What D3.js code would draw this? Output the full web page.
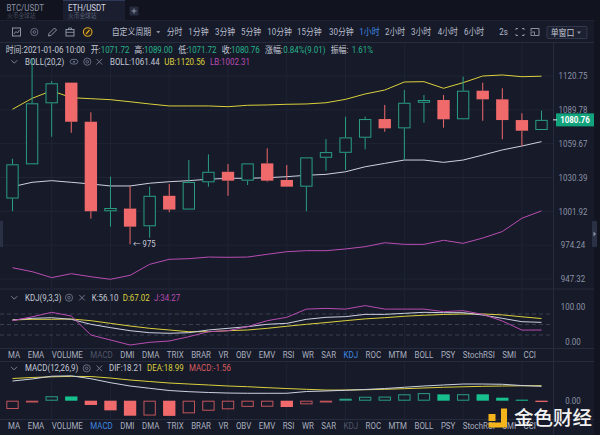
<!DOCTYPE html>
<html><head><meta charset="utf-8">
<script src="https://cdn.jsdelivr.net/npm/d3@7"></script>
<style>
html,body{margin:0;padding:0;background:#161a29;overflow:hidden}
svg{display:block}
text{font-family:Roboto,"Noto Sans CJK SC","DejaVu Sans",sans-serif}
</style></head><body>
<svg id="c" width="600" height="435"></svg>
<script>
// ---------- DATA ----------
const categories = ["01-05 07:00","01-05 08:00","01-05 09:00","01-05 10:00","01-05 11:00","01-05 12:00","01-05 13:00","01-05 14:00","01-05 15:00","01-05 16:00","01-05 17:00","01-05 18:00","01-05 19:00","01-05 20:00","01-05 21:00","01-05 22:00","01-05 23:00","01-06 00:00","01-06 01:00","01-06 02:00","01-06 03:00","01-06 04:00","01-06 05:00","01-06 06:00","01-06 07:00","01-06 08:00","01-06 09:00","01-06 10:00"];
const openV  = [1012.6,1041.7,1095.7,1114.6,1079.1,1002.0,1004.2,989.6,1014.9,1003.4,1026.3,1035.3,1027.7,1042.5,1028.3,1022.6,1047.4,1051.7,1064.9,1081.5,1073.2,1096.2,1098.7,1081.3,1107.2,1099.3,1080.6,1071.72];
const highV  = [1046.5,1137.6,1116.1,1114.6,1087.6,1031.1,1023.2,1022.6,1024.9,1045.4,1050.3,1041.9,1042.5,1055.6,1041.1,1047.7,1063.7,1083.6,1083.6,1094.2,1107.8,1103.3,1103.3,1120.1,1114.6,1109.4,1086.7,1089.00];
const lowV   = [1002.0,1041.7,1065.8,1069.3,995.9,989.3,975.0,980.3,1001.2,1003.4,1022.6,1014.9,1024.0,1026.8,1022.6,1002.0,1036.2,1036.8,1054.7,1070.2,1045.4,1078.2,1073.8,1081.3,1080.0,1063.5,1057.6,1071.72];
const closeV = [1041.7,1095.7,1114.0,1079.1,1002.0,1004.7,989.3,1014.9,1003.4,1026.6,1035.3,1027.7,1042.5,1027.7,1022.6,1047.7,1052.3,1065.2,1081.5,1073.2,1096.2,1098.7,1081.3,1107.2,1099.3,1080.6,1071.1,1080.76];
const bollUp  = [1090.3,1100.2,1107.2,1100.8,1099.9,1099.0,1097.1,1095.1,1093.3,1093.3,1093.3,1092.6,1093.9,1094.2,1094.8,1095.1,1096.2,1099.3,1104.2,1107.8,1115.2,1115.5,1109.4,1114.6,1120.75,1121.7,1120.1,1120.56];
const bollMid = [1022.6,1026.3,1027.7,1026.3,1024.9,1023.2,1023.2,1025.5,1026.8,1027.7,1028.9,1029.7,1029.7,1030.2,1031.1,1032.3,1033.1,1035.3,1039.6,1042.5,1045.4,1045.4,1043.4,1045.4,1049.7,1054.2,1057.6,1061.44];
const bollLow = [956.2,953.1,948.4,951.5,949.1,947.1,950.2,958.9,962.9,963.4,964.7,964.5,964.7,966.9,969.0,969.8,969.8,971.2,973.0,976.2,974.9,974.9,978.2,975.7,980.0,985.3,996.2,1002.31];
const kdjK = [62.9,67.6,69.4,64.8,50.6,41,32.3,26.6,24.9,26.6,34.3,39.1,43.8,50.6,53.3,64.8,70.5,72.4,79,79,81.9,84.8,83.8,83.8,77,67.6,58,56.10];
const kdjD = [63,64.8,64.8,65.7,60.9,53.3,45.7,39.1,34.3,29.4,29.4,32.3,34.3,39.1,45,50.5,55.5,61,66,69.5,73.5,76.5,78.7,80,80,77.5,72,67.02];
const kdjJ = [61,72,84.8,74.3,20,5.7,-8.6,-0.9,2.9,15.1,29.4,32.3,43.8,60.9,70.5,94,96,94,104,94,94,94,86.7,89.5,79,60,34,34.27];
const macdDif = [24.9,27.5,31.0,31.5,27.8,22.8,18.6,15.7,12.9,11.4,10.4,9.7,9.4,9.4,9.4,11.6,12.3,13.2,14.2,15.4,17,18.6,19.9,21.1,21.1,20.8,19.2,18.21];
const macdDea = [28.1,29.4,30.2,30.8,30.6,28.7,26.2,24.3,22.4,21.1,19.9,18.6,17.7,16.5,15.4,14.4,13.5,13.5,13.9,14.4,15.2,16.1,17,17.6,18.2,18.6,18.9,18.99];
const macdHist = [-10.5,-2,5.6,5.4,-5.4,-12.2,-19,-18.8,-19.2,-16,-12.7,-10.9,-7.8,-7.6,-8.0,-4.6,-2,2.5,5,5.2,8.1,9.6,8.0,8.2,8.1,3.8,1.3,-1.56];
const priceTicks = [1120.75,1089.78,1059.67,1030.39,1001.92,974.24,947.32];
const kdjTicks = [100,0];
const kdjDashed = [80,50,20];
const periods = ["分时","1分钟","3分钟","5分钟","10分钟","15分钟","30分钟","1小时","2小时","3小时","4小时","6小时"];
const indicators = ["MA","EMA","VOLUME","MACD","DMI","DMA","TRIX","BRAR","VR","OBV","EMV","RSI","WR","SAR","KDJ","ROC","MTM","BOLL","PSY","StochRSI","SMI","CCI"];

// ---------- STYLE ----------
const BG='#161a29', GRID='#1f2436', SEP='#262b3d', TXT='#c5c9d5', AX='#8d93a6';
const GREEN='#2a9f82', RED='#f06a6b', GFILL='#17c08d', YEL='#dcd03c', MAG='#b94db2', WHT='#cdd1e0', VAL='#27b48c', BLUE='#3f86e0';

const svg = d3.select('#c');
svg.append('rect').attr('width',600).attr('height',435).attr('fill',BG);

function T(p,x,y,s,o={}){
  const sq=o.sq==null?0.88:o.sq;
  return p.append('text').attr('transform',`translate(${x},${y}) scale(${sq},1)`)
    .attr('text-anchor',o.anchor||'start').attr('dominant-baseline','central')
    .attr('font-size',o.size||9).attr('font-weight',o.weight||400)
    .attr('fill',o.fill||TXT).text(s);
}
function hline(y,x1=0,x2=594,c=SEP){svg.append('line').attr('x1',x1).attr('x2',x2).attr('y1',y).attr('y2',y).attr('stroke',c).attr('stroke-width',1);}
function chevron(x,y){svg.append('path').attr('d',`M${x-3},${y-1.5}L${x},${y+1.5}L${x+3},${y-1.5}`).attr('fill','none').attr('stroke','#7d8398').attr('stroke-width',1);}
function gear(x,y){svg.append('circle').attr('cx',x).attr('cy',y).attr('r',3.6).attr('fill','none').attr('stroke','#6f758a').attr('stroke-width',0.9);
  svg.append('circle').attr('cx',x).attr('cy',y).attr('r',1.3).attr('fill','none').attr('stroke','#6f758a').attr('stroke-width',0.9);}
function eye(x,y){svg.append('ellipse').attr('cx',x).attr('cy',y).attr('rx',4).attr('ry',2.5).attr('fill','none').attr('stroke','#6f758a').attr('stroke-width',0.9);
  svg.append('circle').attr('cx',x).attr('cy',y).attr('r',1).attr('fill','#6f758a');}
function cross(x,y){svg.append('path').attr('d',`M${x-2.8},${y-2.8}L${x+2.8},${y+2.8}M${x+2.8},${y-2.8}L${x-2.8},${y+2.8}`).attr('stroke','#6f758a').attr('stroke-width',1);}

// ---------- TOP TAB BAR ----------
svg.append('rect').attr('width',600).attr('height',20).attr('fill','#11141f');
svg.append('rect').attr('x',63).attr('width',62).attr('height',20).attr('fill','#1a1e2e');
svg.append('line').attr('x1',63).attr('x2',125).attr('y1',0.5).attr('y2',0.5).attr('stroke','#2e3a5c');
T(svg,6.5,7.5,'BTC/USDT',{fill:'#8b91a4',size:9});
T(svg,7,15.5,'火币全球站',{fill:'#474d61',size:6.5});
T(svg,68,7.5,'ETH/USDT',{fill:'#d3d7e2',size:9});
T(svg,68,15.5,'火币全球站',{fill:'#5a6075',size:6.5});
svg.append('rect').attr('x',129.5).attr('y',6.5).attr('width',9).attr('height',9).attr('fill','#262b3d').attr('rx',1);
svg.append('path').attr('d','M134,8.5V13.5M131.5,11H136.5').attr('stroke','#9aa0b2').attr('stroke-width',0.9);

// ---------- TOOLBAR ----------
hline(20.5,0,600,'#1e2232');
const tbY=32, ic='#9ba1b4';
// icon 1: chart box
svg.append('rect').attr('x',12.5).attr('y',28).attr('width',8).attr('height',8).attr('fill','none').attr('stroke',ic).attr('stroke-width',0.9);
svg.append('path').attr('d','M14,34L16,31.5L17.5,33L19.5,30').attr('fill','none').attr('stroke',ic).attr('stroke-width',0.8);
gear(34.3,tbY);
svg.select('circle:last-child');
svg.append('path').attr('d','M48.5,36L49,33.5L54.5,28L56.5,30L51,35.5Z').attr('fill','none').attr('stroke',ic).attr('stroke-width',0.9);
svg.append('rect').attr('x',66).attr('y',29.5).attr('width',8).attr('height',6.5).attr('fill','none').attr('stroke',ic).attr('stroke-width',0.9);
svg.append('path').attr('d','M68.5,29.5V28H71.5V29.5M66,32.3H74').attr('fill','none').attr('stroke',ic).attr('stroke-width',0.8);
svg.append('circle').attr('cx',87.7).attr('cy',tbY).attr('r',4.3).attr('fill','#2a2618').attr('stroke','#e0a52a').attr('stroke-width',1.1);
svg.append('path').attr('d','M86,34L89.5,30').attr('stroke','#e0a52a').attr('stroke-width',1.2);
T(svg,111.7,tbY,'自定义周期',{fill:'#b8bdcc'});
svg.append('path').attr('d','M156.3,31L160.3,31L158.3,33.5Z').attr('fill','#8d93a6');
const periodX=[166.7,188.3,215,241,267.3,297,329,359.3,385,411,437.7,464];
periods.forEach((p,i)=>T(svg,periodX[i],tbY,p,{fill:p==='1小时'?BLUE:'#b8bdcc'}));
T(svg,499.3,tbY,'2s',{fill:'#b8bdcc'});
svg.append('path').attr('d','M516,30V28.5H518M522,28.5H524V30M524,34V35.5H522M518,35.5H516V34').attr('fill','none').attr('stroke',ic).attr('stroke-width',0.9);
svg.append('path').attr('d','M531,28.5H539V35.5H535M531,28.5V31').attr('fill','none').attr('stroke',ic).attr('stroke-width',0.9);
svg.append('rect').attr('x',531).attr('y',32).attr('width',3.5).attr('height',3.5).attr('fill','none').attr('stroke',ic).attr('stroke-width',0.8);
svg.append('rect').attr('x',547).attr('y',26.5).attr('width',40).attr('height',12).attr('fill','#1c2030').attr('stroke','#3a4056').attr('stroke-width',0.8).attr('rx',1);
T(svg,550.7,tbY+0.5,'单窗口',{fill:'#c3c7d3'});
svg.append('path').attr('d','M577,31.5L581,31.5L579,34Z').attr('fill','#8d93a6');

// ---------- SCALES ----------
const x = d3.scalePoint().domain(categories).range([12.5,541.5]);
const bw = x.step()*0.63;
const y = d3.scaleLog().domain([947.32,1120.75]).range([279,76]);
const yK = d3.scaleLinear().domain([0,100]).range([342,307]);
const yM = d3.scaleLinear().domain([0,20]).range([400.7,384.9]);
const gridCats = categories.filter((c,i)=>i%3===2);

// separators
hline(42.5,0,600);
hline(289,0,594);
hline(348.5,0,594);
hline(361.5,0,594);
hline(419.5,0,594);
svg.append('line').attr('x1',553.5).attr('x2',553.5).attr('y1',42).attr('y2',435).attr('stroke',SEP);

// vertical grid
[[43,289],[289,348],[362,419]].forEach(([a,b])=>{
  svg.append('g').selectAll('line').data(gridCats).join('line')
    .attr('x1',d=>x(d)).attr('x2',d=>x(d)).attr('y1',a).attr('y2',b).attr('stroke',GRID);
});
// horizontal grid main
svg.append('g').selectAll('line').data(priceTicks).join('line')
  .attr('x1',0).attr('x2',553).attr('y1',d=>y(d)).attr('y2',d=>y(d)).attr('stroke',GRID);
// price axis labels
svg.append('g').selectAll('text').data(priceTicks).join('text')
  .attr('transform',d=>`translate(573,${y(d)}) scale(0.88,1)`).attr('text-anchor','middle').attr('dominant-baseline','central')
  .attr('font-size',9).attr('fill',AX).text(d=>d.toFixed(2));

// ---------- INFO ROWS ----------
const iy=49.5;
T(svg,5.7,iy,'时间:2021-01-06 10:00');
[['开:',90.7,'1071.72',100.7],['高:',134.3,'1089.00',144],['低:',178.3,'1071.72',187.7],['收:',221.7,'1080.76',231],['涨幅:',265,'0.84%(9.01)',283.3],['振幅:',330.7,'1.61%',351.7]]
  .forEach(([l,lx,v,vx])=>{T(svg,lx,iy,l);T(svg,vx,iy,v,{fill:VAL});});
const by=61.7;
chevron(14.3,by);
T(svg,25,by,'BOLL(20,2)');
eye(74,by);gear(87.3,by);cross(99.3,by);
T(svg,110,by,'BOLL:'+bollMid[27].toFixed(2));
T(svg,164.3,by,'UB:'+bollUp[27].toFixed(2),{fill:YEL});
T(svg,210,by,'LB:'+bollLow[27].toFixed(2),{fill:MAG});

// ---------- MAIN CHART ----------
svg.append('clipPath').attr('id','mc').append('rect').attr('x',0).attr('y',43).attr('width',553).attr('height',246);
const main = svg.append('g').attr('clip-path','url(#mc)');
const idx = d3.range(categories.length);
const lineOf=(arr,ys)=>d3.line().x((d,i)=>x(categories[i])).y(d=>ys(d))(arr);
main.append('path').attr('d',lineOf(bollUp,y)).attr('fill','none').attr('stroke',YEL).attr('stroke-width',1);
main.append('path').attr('d',lineOf(bollMid,y)).attr('fill','none').attr('stroke',WHT).attr('stroke-width',1);
main.append('path').attr('d',lineOf(bollLow,y)).attr('fill','none').attr('stroke',MAG).attr('stroke-width',1);
const cg = main.append('g');
idx.forEach(i=>{
  const cx=x(categories[i]), up=closeV[i]>=openV[i];
  const top=y(Math.max(openV[i],closeV[i])), bot=y(Math.min(openV[i],closeV[i]));
  const col=up?GREEN:RED;
  cg.append('line').attr('x1',cx).attr('x2',cx).attr('y1',y(highV[i])).attr('y2',top).attr('stroke',col).attr('stroke-width',1);
  cg.append('line').attr('x1',cx).attr('x2',cx).attr('y1',bot).attr('y2',y(lowV[i])).attr('stroke',col).attr('stroke-width',1);
  const h=Math.max(bot-top,1);
  if(up) cg.append('rect').attr('x',cx-bw/2+0.5).attr('y',top+0.5).attr('width',bw-1).attr('height',Math.max(h-1,0.5)).attr('fill',BG).attr('stroke',col).attr('stroke-width',1);
  else cg.append('rect').attr('x',cx-bw/2).attr('y',top).attr('width',bw).attr('height',h).attr('fill',col);
});
// min label
const iMin = d3.minIndex(lowV);
T(main,x(categories[iMin])+3,y(lowV[iMin]),'← '+Math.round(lowV[iMin]),{size:8.5,fill:'#c9ccd8',sq:0.9});
// current price tag
const yc=y(closeV[27]);
svg.append('rect').attr('x',556).attr('y',yc-6.5).attr('width',38).attr('height',13).attr('fill','#12a27c');
svg.append('line').attr('x1',553).attr('x2',557).attr('y1',yc).attr('y2',yc).attr('stroke','#e8eaf0');
T(svg,575,yc,closeV[27].toFixed(2),{anchor:'middle',fill:'#ffffff',weight:700});

// ---------- KDJ PANEL ----------
const ky=297.7;
chevron(14.3,ky);
T(svg,25,ky,'KDJ(9,3,3)');
gear(69,ky);cross(82,ky);
T(svg,91.7,ky,'K:'+kdjK[27].toFixed(2));
T(svg,122.7,ky,'D:'+kdjD[27].toFixed(2),{fill:YEL});
T(svg,154,ky,'J:'+kdjJ[27].toFixed(2),{fill:MAG});
svg.append('g').selectAll('line').data(kdjDashed).join('line')
  .attr('x1',0).attr('x2',553).attr('y1',d=>yK(d)).attr('y2',d=>yK(d)).attr('stroke','#3a3f53').attr('stroke-dasharray','4,3');
svg.append('g').selectAll('text').data(kdjTicks).join('text')
  .attr('transform',d=>`translate(573,${yK(d)}) scale(0.88,1)`).attr('text-anchor','middle').attr('dominant-baseline','central')
  .attr('font-size',9).attr('fill',AX).text(d=>d.toFixed(2));
svg.append('clipPath').attr('id','kc').append('rect').attr('x',0).attr('y',303).attr('width',553).attr('height',45);
const kg=svg.append('g').attr('clip-path','url(#kc)');
kg.append('path').attr('d',lineOf(kdjD,yK)).attr('fill','none').attr('stroke',YEL).attr('stroke-width',1);
kg.append('path').attr('d',lineOf(kdjK,yK)).attr('fill','none').attr('stroke',WHT).attr('stroke-width',1);
kg.append('path').attr('d',lineOf(kdjJ,yK)).attr('fill','none').attr('stroke',MAG).attr('stroke-width',1);

// ---------- INDICATOR TAB ROWS ----------
function tabRow(yy,active,disabled){
  const g=svg.append('g');
  const items=indicators.map(s=>T(g,0,yy,s,{fill:s===active?BLUE:(s===disabled?'#50566a':'#a9afbf')}));
  const widths=items.map(t=>t.node().getComputedTextLength()*0.88);
  const total=d3.sum(widths), gap=(528-total)/(indicators.length-1);
  let cx=8;
  items.forEach((t,i)=>{t.attr('transform',`translate(${cx},${yy}) scale(0.88,1)`);cx+=widths[i]+gap;});
}
tabRow(355.3,'KDJ','MACD');
tabRow(426,'MACD','KDJ');

// ---------- MACD PANEL ----------
const my=368.3;
chevron(14,my);
T(svg,25,my,'MACD(12,26,9)');
gear(86.7,my);cross(99.3,my);
T(svg,109,my,'DIF:'+macdDif[27].toFixed(2));
T(svg,147,my,'DEA:'+macdDea[27].toFixed(2),{fill:YEL});
T(svg,189,my,'MACD:'+macdHist[27].toFixed(2),{fill:'#d95c5f'});
T(svg,573,yM(0),'0.00',{anchor:'middle',fill:AX});
const mg=svg.append('g');
idx.forEach(i=>{
  const v=macdHist[i], cx=x(categories[i]);
  const filled = i>0 && v<macdHist[i-1];
  const col = v>=0?(filled?GFILL:GREEN):(filled?RED:'#c2555b');
  const y0=yM(0), y1=yM(v);
  const top=Math.min(y0,y1), h=Math.max(Math.abs(y1-y0),1);
  if(filled) mg.append('rect').attr('x',cx-bw/2).attr('y',top).attr('width',bw).attr('height',h).attr('fill',col);
  else mg.append('rect').attr('x',cx-bw/2+0.5).attr('y',top+0.5).attr('width',bw-1).attr('height',Math.max(h-1,0.8)).attr('fill','none').attr('stroke',col).attr('stroke-width',1);
});
mg.append('path').attr('d',lineOf(macdDea,yM)).attr('fill','none').attr('stroke',YEL).attr('stroke-width',1);
mg.append('path').attr('d',lineOf(macdDif,yM)).attr('fill','none').attr('stroke',WHT).attr('stroke-width',1);

// ---------- EDGES ----------
svg.append('rect').attr('x',594).attr('y',20).attr('width',6).attr('height',415).attr('fill','#12151f');
svg.append('rect').attr('x',592).attr('y',221).attr('width',5).attr('height',26).attr('fill','#2b3145').attr('rx',1);
svg.append('path').attr('d','M593.5,231.5L596,234L593.5,236.5Z').attr('fill','#8d93a6');
svg.append('rect').attr('x',0).attr('y',221).attr('width',3).attr('height',26).attr('fill','#2b3145');

// ---------- WATERMARK ----------
const wm=svg.append('g');
wm.append('rect').attr('x',488.5).attr('y',414).attr('width',7).attr('height',7).attr('fill','#f4b41c');
wm.append('path').attr('d','M501,408.5H507V427.5H488.5V422.5H501Z').attr('fill','#f4b41c');
wm.append('text').attr('x',514).attr('y',418).attr('dominant-baseline','central').attr('font-size',19.5).attr('font-weight',500)
  .attr('font-family','"Noto Sans CJK SC",sans-serif').attr('fill','#f2f2f2').text('金色财经');
</script>
</body></html>
